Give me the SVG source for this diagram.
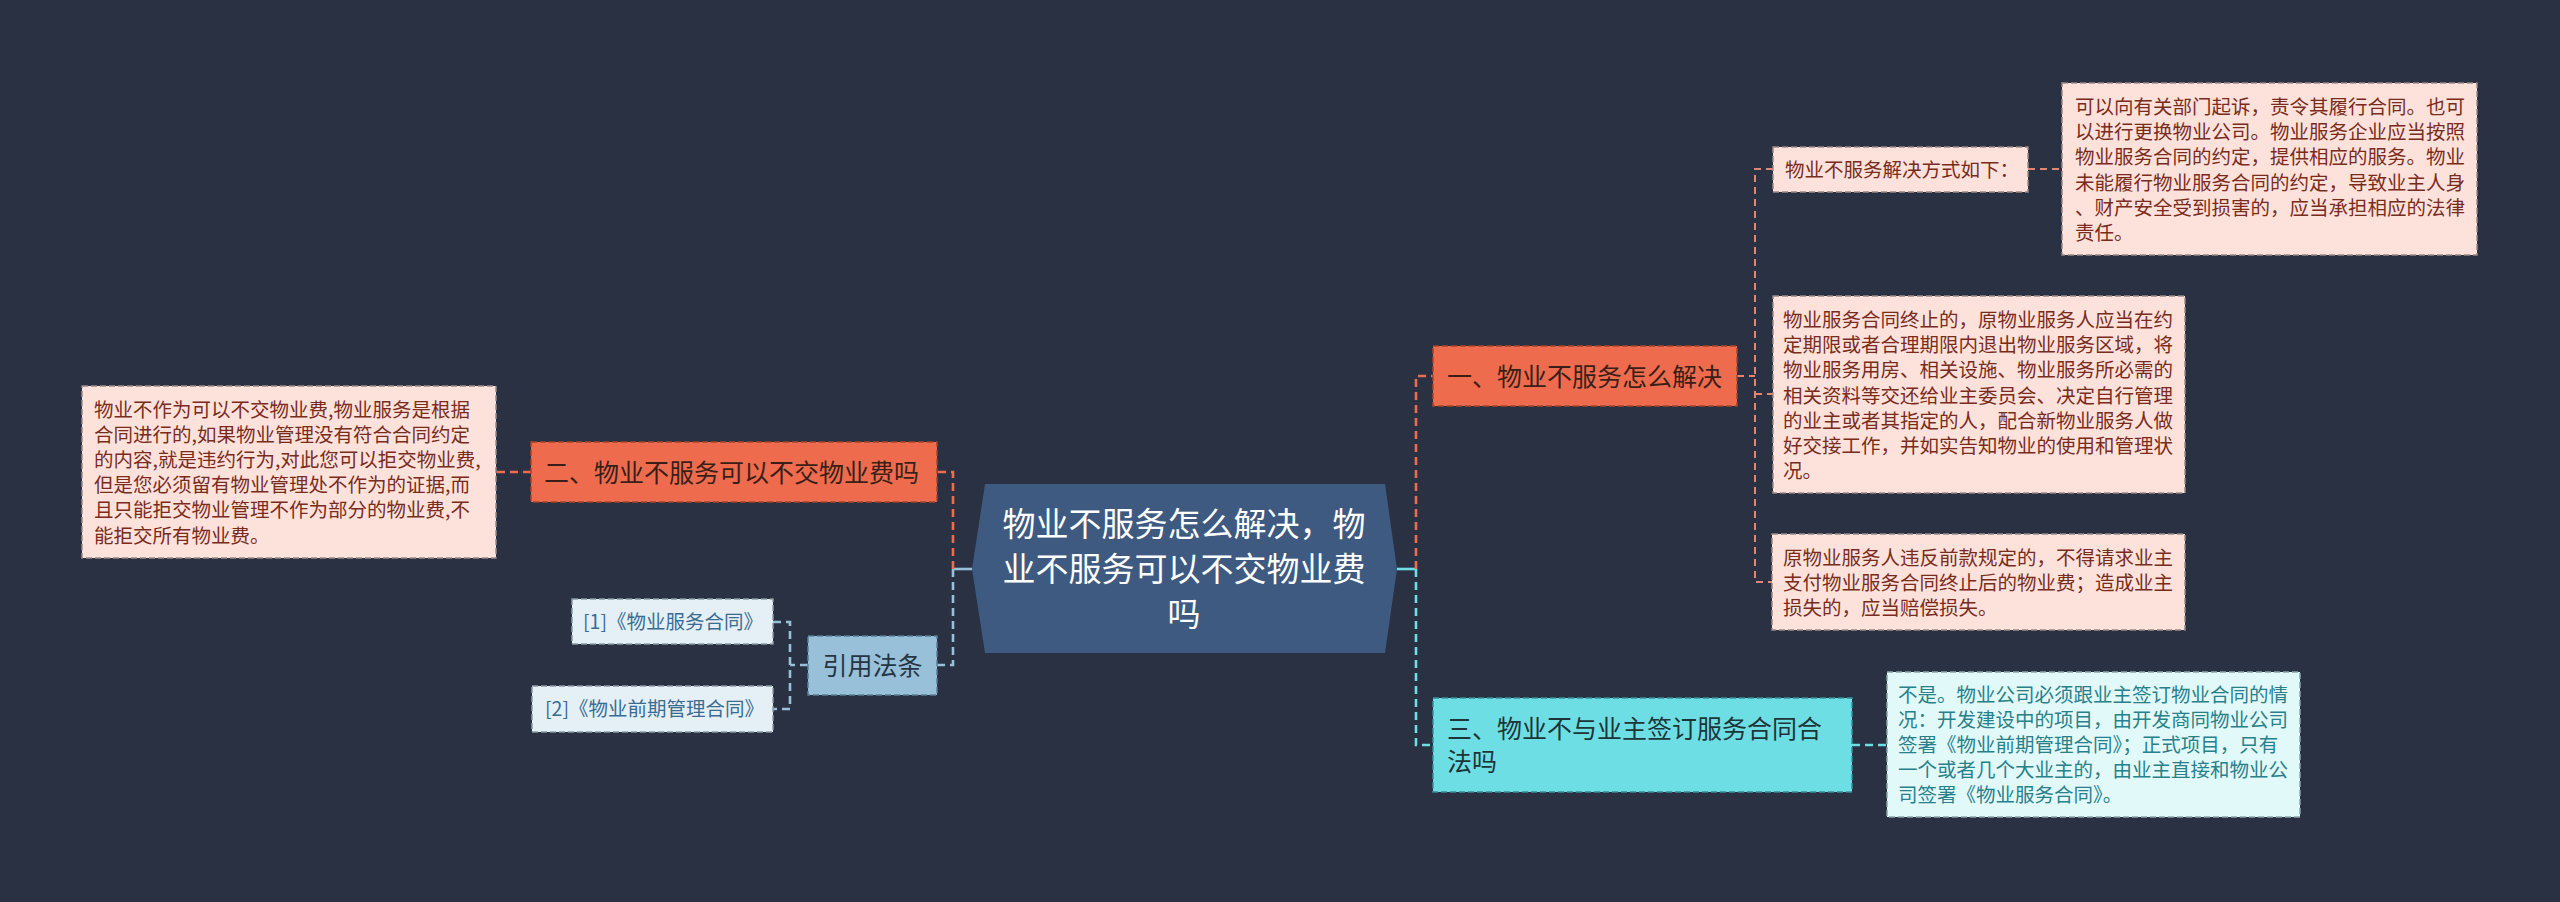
<svg xmlns="http://www.w3.org/2000/svg" width="2560" height="902" viewBox="0 0 2560 902">
<style>
text{font-family:"Noto Sans CJK SC","Noto Sans",sans-serif;}
.c{fill:none;stroke-width:2.6;stroke-dasharray:8 5;}
.cs{fill:none;stroke-width:2.6;}
.or{stroke:#ee6c4d;}
.pk{stroke:#e48471;stroke-width:2;stroke-dasharray:7 5;}
.cy{stroke:#6ddfe4;}
.lb{stroke:#98c1d9;}
.node{stroke-width:1.5;stroke-dasharray:6 3;}
.t25{font-size:25px;}
.t19{font-size:19.5px;}
.dt{fill:#7a2c1c;}
</style>
<rect width="2560" height="902" fill="#293142"/>
<g id="connectors">
<path class="cs cy" d="M1397 569 H1416"/>
<path class="c or" d="M1416 569 V376 H1433"/>
<path class="c cy" d="M1416 569 V745 H1433"/>
<path class="cs lb" d="M972 569 H953"/>
<path class="c or" d="M953 569 V472 H937"/>
<path class="c lb" d="M953 569 V665 H937"/>
<path class="c pk" d="M1737 376 H1755 M1773 169 H1755 V582 H1772 M1755 394 H1773"/>
<path class="c pk" d="M2028 169 H2062"/>
<path class="c or" d="M531 472 H496"/>
<path class="c cy" d="M1852 745 H1887"/>
<path class="c lb" d="M808 665 H790 M773 622 H790 V709 H773"/>
</g>
<g id="center">
<polygon points="972,569 985,484 1385,484 1397,569 1385,653 985,653" fill="#3e5a80"/>
<text x="1184" y="536" font-size="33" fill="#ffffff" text-anchor="middle">物业不服务怎么解决，物</text>
<text x="1184" y="581" font-size="33" fill="#ffffff" text-anchor="middle">业不服务可以不交物业费</text>
<text x="1184" y="626" font-size="33" fill="#ffffff" text-anchor="middle">吗</text>
</g>
<g id="n1">
<rect class="node" x="1433" y="346" width="304" height="60" fill="#ee6c4d" stroke="#a8432a"/>
<text class="t25" x="1447" y="385.5" fill="#3a1f18">一、物业不服务怎么解决</text>
</g>
<g id="n1a">
<rect class="node" x="1773" y="147" width="255" height="45" fill="#fde2dc" stroke="#9a8a88"/>
<text class="t19 dt" x="1785" y="177">物业不服务解决方式如下：</text>
</g>
<g id="n1a1">
<rect class="node" x="2062" y="83" width="415" height="172" fill="#fde2dc" stroke="#9a8a88"/>
<text class="t19 dt" x="2075" y="114">可以向有关部门起诉，责令其履行合同。也可</text>
<text class="t19 dt" x="2075" y="139.2">以进行更换物业公司。物业服务企业应当按照</text>
<text class="t19 dt" x="2075" y="164.4">物业服务合同的约定，提供相应的服务。物业</text>
<text class="t19 dt" x="2075" y="189.6">未能履行物业服务合同的约定，导致业主人身</text>
<text class="t19 dt" x="2075" y="214.8">、财产安全受到损害的，应当承担相应的法律</text>
<text class="t19 dt" x="2075" y="240">责任。</text>
</g>
<g id="n1b">
<rect class="node" x="1773" y="296" width="412" height="197" fill="#fde2dc" stroke="#9a8a88"/>
<text class="t19 dt" x="1783" y="327">物业服务合同终止的，原物业服务人应当在约</text>
<text class="t19 dt" x="1783" y="352.2">定期限或者合理期限内退出物业服务区域，将</text>
<text class="t19 dt" x="1783" y="377.4">物业服务用房、相关设施、物业服务所必需的</text>
<text class="t19 dt" x="1783" y="402.6">相关资料等交还给业主委员会、决定自行管理</text>
<text class="t19 dt" x="1783" y="427.8">的业主或者其指定的人，配合新物业服务人做</text>
<text class="t19 dt" x="1783" y="453">好交接工作，并如实告知物业的使用和管理状</text>
<text class="t19 dt" x="1783" y="478.2">况。</text>
</g>
<g id="n1c">
<rect class="node" x="1772" y="534" width="413" height="96" fill="#fde2dc" stroke="#9a8a88"/>
<text class="t19 dt" x="1783" y="564.5">原物业服务人违反前款规定的，不得请求业主</text>
<text class="t19 dt" x="1783" y="589.5">支付物业服务合同终止后的物业费；造成业主</text>
<text class="t19 dt" x="1783" y="614.5">损失的，应当赔偿损失。</text>
</g>
<g id="n3">
<rect class="node" x="1433" y="698" width="419" height="94" fill="#6ddfe4" stroke="#3a8f95"/>
<text class="t25" x="1447" y="738" fill="#1d3438">三、物业不与业主签订服务合同合</text>
<text class="t25" x="1447" y="771" fill="#1d3438">法吗</text>
</g>
<g id="n3a">
<rect class="node" x="1887" y="672" width="413" height="145" fill="#e2f9f9" stroke="#8aa5a8"/>
<text class="t19" x="1898" y="701.5" fill="#27808a">不是。物业公司必须跟业主签订物业合同的情</text>
<text class="t19" x="1898" y="726.7" fill="#27808a">况：开发建设中的项目，由开发商同物业公司</text>
<text class="t19" x="1898" y="751.9" fill="#27808a">签署《物业前期管理合同》；正式项目，只有</text>
<text class="t19" x="1898" y="777.1" fill="#27808a">一个或者几个大业主的，由业主直接和物业公</text>
<text class="t19" x="1898" y="802.3" fill="#27808a">司签署《物业服务合同》。</text>
</g>
<g id="n2">
<rect class="node" x="531" y="442" width="406" height="60" fill="#ee6c4d" stroke="#a8432a"/>
<text class="t25" x="544" y="481.5" fill="#3a1f18">二、物业不服务可以不交物业费吗</text>
</g>
<g id="n2a">
<rect class="node" x="82" y="386" width="414" height="172" fill="#fde2dc" stroke="#9a8a88"/>
<text class="t19 dt" x="94" y="416.5">物业不作为可以不交物业费,物业服务是根据</text>
<text class="t19 dt" x="94" y="441.7">合同进行的,如果物业管理没有符合合同约定</text>
<text class="t19 dt" x="94" y="466.9">的内容,就是违约行为,对此您可以拒交物业费,</text>
<text class="t19 dt" x="94" y="492.1">但是您必须留有物业管理处不作为的证据,而</text>
<text class="t19 dt" x="94" y="517.3">且只能拒交物业管理不作为部分的物业费,不</text>
<text class="t19 dt" x="94" y="542.5">能拒交所有物业费。</text>
</g>
<g id="n4">
<rect class="node" x="808" y="636" width="129" height="59" fill="#98c1d9" stroke="#5a7f95"/>
<text class="t25" x="872.5" y="675" fill="#263544" text-anchor="middle">引用法条</text>
</g>
<g id="n4a">
<rect class="node" x="572" y="599" width="201" height="45" fill="#e4f0f6" stroke="#8a9aa5"/>
<text x="583" y="629" font-size="19.5" fill="#3a6c92">[1]《物业服务合同》</text>
</g>
<g id="n4b">
<rect class="node" x="532" y="686" width="241" height="46" fill="#e4f0f6" stroke="#8a9aa5"/>
<text x="545" y="716" font-size="19.5" fill="#3a6c92">[2]《物业前期管理合同》</text>
</g>
</svg>
